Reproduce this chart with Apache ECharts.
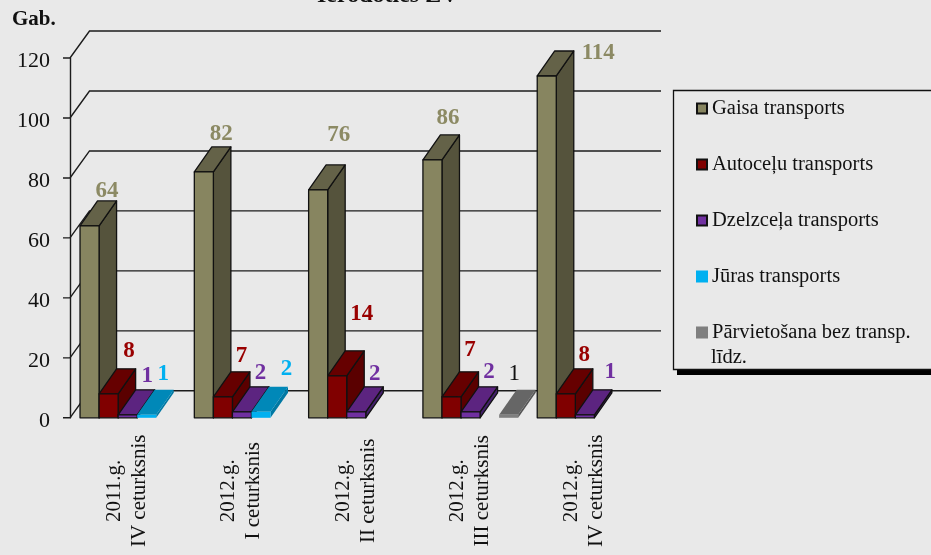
<!DOCTYPE html>
<html>
<head>
<meta charset="utf-8">
<style>
  html, body { margin: 0; padding: 0; background: #e9e9e9; overflow: hidden; }
  #main { width: 931px; height: 555px; }
</style>
<script src="https://cdn.jsdelivr.net/npm/echarts@6/dist/echarts.min.js"></script>
</head>
<body>
<div id="main"></div>
<script>
const categories = [
  '2011.g.\nIV ceturksnis',
  '2012.g.\nI ceturksnis',
  '2012.g.\nII ceturksnis',
  '2012.g.\nIII ceturksnis',
  '2012.g.\nIV ceturksnis'
]
const yTicks = [0, 20, 40, 60, 80, 100, 120]

const gaisa = [64, 82, 76, 86, 114]
const autoceli = [8, 7, 14, 7, 8]
const dzelzcels = [1, 2, 2, 2, 1]
const juras = [1, 2, null, null, null]
const parvietosana = [null, null, null, 1, null]

// depth of the fake 3d: wall and bars do not go back the same distance
const wallDx = 19.5, wallDy = -27
const barDx = 17.5, barDy = -25

const FONT = '"Liberation Serif", "Times New Roman", serif'

// the labels were moved by hand in the original, so [dx, dy] from the top of the bar
const gaisaNudge = [[0, -35], [0, -38], [3, -55], [-2, -42], [34, -23]]
const autoceliNudge = [[3, -43], [1, -41], [7, -62], [1, -47], [1, -39]]
const dzelzcelsNudge = [[2, -39], [1, -39], [1, -38], [1, -40], [8, -43]]
const jurasNudge = [[-1, -41], [8, -43], null, null, null]
const parvietosanaNudge = [null, null, null, [-12, -41], null]

function bar3d(idx, front, side, top, border, labelColor, labelWeight, nudge) {
  return function (params, api) {
    const v = api.value(1)
    if (v == null || isNaN(v)) return null
    const base = api.coord([api.value(0), 0])
    const head = api.coord([api.value(0), v])
    const w = api.size([1, 0])[0] / 6
    const x0 = base[0] - 2.5 * w + idx * w + 0.5
    const x1 = x0 + w
    const y0 = base[1]
    const y1 = head[1]
    const sty = { lineWidth: border ? 1.3 : 0, stroke: border || 'none', lineJoin: 'round' }
    const n = nudge[params.dataIndex]
    return {
      type: 'group',
      children: [
        { type: 'polygon', shape: { points: [[x1, y0], [x1 + barDx, y0 + barDy], [x1 + barDx, y1 + barDy], [x1, y1]] }, style: { ...sty, fill: side } },
        { type: 'polygon', shape: { points: [[x0, y1], [x0 + barDx, y1 + barDy], [x1 + barDx, y1 + barDy], [x1, y1]] }, style: { ...sty, fill: top } },
        { type: 'rect', shape: { x: x0, y: y1, width: w, height: y0 - y1 }, style: { ...sty, fill: front } },
        {
          type: 'text',
          z2: 10,
          style: {
            text: String(v),
            x: x0 + w / 2 + barDx + n[0],
            y: y1 + n[1],
            align: 'center',
            verticalAlign: 'middle',
            fill: labelColor,
            font: labelWeight + ' 23px ' + FONT
          }
        }
      ]
    }
  }
}

function wall(params, api) {
  const tick = api.value(0)
  const p = api.coord([0, tick])
  const left = p[0] - api.size([1, 0])[0] / 2
  const end = left + api.size([1, 0])[0] * 5
  return {
    type: 'polyline',
    shape: { points: [[left - 7, p[1]], [left, p[1]], [left + wallDx, p[1] + wallDy], [end + wallDx, p[1] + wallDy]] },
    style: { fill: 'none', stroke: '#1c1c1c', lineWidth: 1.4 }
  }
}

function makeSeries(name, idx, values, front, side, top, border, labelColor, labelWeight, nudge) {
  return {
    name: name,
    type: 'custom',
    coordinateSystem: 'cartesian2d',
    renderItem: bar3d(idx, front, side, top, border, labelColor, labelWeight, nudge),
    encode: { x: 0, y: 1 },
    itemStyle: { color: front },
    data: values.map((v, i) => [i, v]),
    z: 5,
    silent: true
  }
}

const chart = echarts.init(document.getElementById('main'))
chart.setOption({
  animation: false,
  backgroundColor: '#e9e9e9',
  textStyle: { fontFamily: FONT },
  grid: { left: 70, top: 58, width: 571.5, height: 359.8 },
  xAxis: {
    type: 'category',
    data: categories,
    axisLine: { show: false },
    axisTick: { show: false },
    axisLabel: {
      interval: 0,
      rotate: 90,
      align: 'center',
      verticalAlign: 'middle',
      margin: 73,
      fontSize: 21,
      lineHeight: 25,
      color: '#111',
      fontFamily: FONT
    }
  },
  yAxis: {
    type: 'value',
    min: 0,
    max: 120,
    interval: 20,
    axisLine: { show: true, lineStyle: { color: '#1c1c1c', width: 1.4 } },
    axisTick: { show: false },
    splitLine: { show: false },
    axisLabel: { fontSize: 22, color: '#111', margin: 20, verticalAlign: 'top', padding: [-8, 0, 0, 0], fontFamily: FONT }
  },
  legend: {
    orient: 'vertical',
    left: 673,
    top: 96,
    padding: [0, 0, 0, 23],
    itemWidth: 10,
    itemHeight: 10,
    itemGap: 31,
    selectedMode: false,
    textStyle: { fontSize: 20.5, lineHeight: 25, color: '#111', fontFamily: FONT },
    data: [
      { name: 'Gaisa transports', icon: 'rect', itemStyle: { color: '#878560', borderColor: '#111', borderWidth: 2 } },
      { name: 'Autoceļu transports', icon: 'rect', itemStyle: { color: '#800000', borderColor: '#111', borderWidth: 2 } },
      { name: 'Dzelzceļa transports', icon: 'rect', itemStyle: { color: '#7030a0', borderColor: '#111', borderWidth: 2 } },
      { name: 'Jūras transports', icon: 'rect', itemStyle: { color: '#00b0f0', borderColor: '#00b0f0', borderWidth: 2 } },
      { name: 'Pārvietošana bez transp.', icon: 'rect', itemStyle: { color: '#7f7f7f', borderColor: '#7f7f7f', borderWidth: 2 } }
    ]
  },
  graphic: [
    { type: 'text', left: 12, top: 9, style: { text: 'Gab.', fill: '#111', font: 'bold 21px ' + FONT } },
    { type: 'text', left: 317, top: -16, style: { text: 'Ierodoties ZV', fill: '#111', font: 'bold 24px ' + FONT } },
    // legend frame runs off the right edge of the picture
    { type: 'rect', z: -2, shape: { x: 677, y: 95, width: 300, height: 280 }, style: { fill: '#000' } },
    { type: 'rect', z: -1, shape: { x: 673.5, y: 90.5, width: 300, height: 279 }, style: { fill: '#e9e9e9', stroke: '#111', lineWidth: 1.3 } },
    { type: 'text', left: 711, top: 347, style: { text: 'līdz.', fill: '#111', font: '20.5px ' + FONT } }
  ],
  series: [
    {
      type: 'custom',
      coordinateSystem: 'cartesian2d',
      renderItem: wall,
      encode: { y: 0 },
      data: yTicks.map((t) => [t]),
      z: 1,
      silent: true
    },
    makeSeries('Gaisa transports', 0, gaisa, '#878560', '#55533c', '#646248', '#111', '#8c8a64', 'bold', gaisaNudge),
    makeSeries('Autoceļu transports', 1, autoceli, '#800000', '#5a0000', '#660000', '#111', '#990000', 'bold', autoceliNudge),
    makeSeries('Dzelzceļa transports', 2, dzelzcels, '#7030a0', '#43206b', '#5c2480', '#111', '#7030a0', 'bold', dzelzcelsNudge),
    makeSeries('Jūras transports', 3, juras, '#00b0f0', '#0078a3', '#0088b8', null, '#00b0f0', 'bold', jurasNudge),
    makeSeries('Pārvietošana bez transp.', 4, parvietosana, '#7f7f7f', '#555555', '#666666', null, '#111', 'normal', parvietosanaNudge)
  ]
})
</script>
</body>
</html>
